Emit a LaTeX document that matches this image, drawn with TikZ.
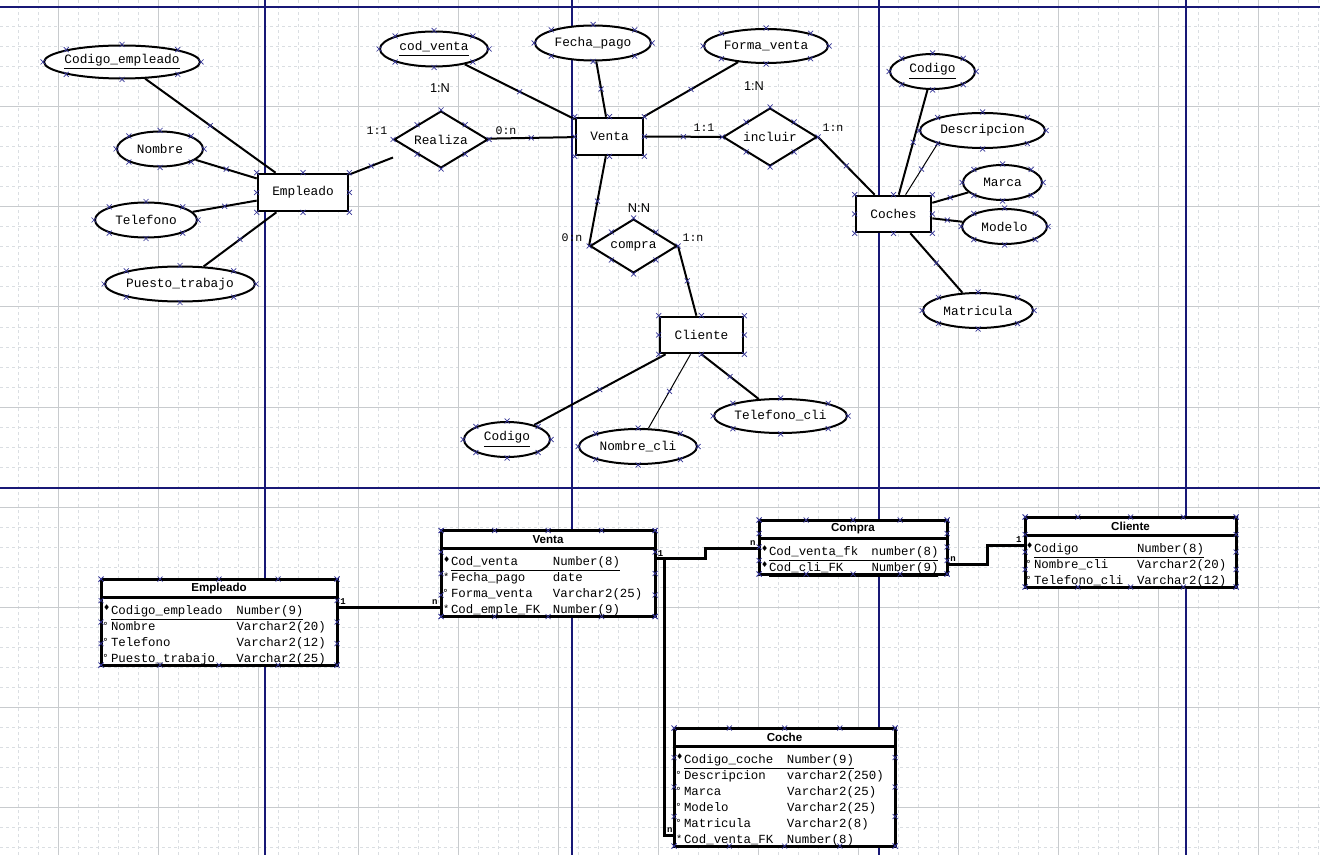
\documentclass[tikz,border=0pt]{standalone}
\usepackage{fontspec}
\usetikzlibrary{positioning, shapes.geometric, calc, decorations.markings}
\newfontfamily\erfont{Liberation Mono}
\newfontfamily\lblfont{Liberation Sans}
\newfontfamily\markfont{DejaVu Sans}
\definecolor{pageline}{RGB}{24,24,118}
\definecolor{gridcol}{RGB}{218,222,226}
\definecolor{handlecol}{RGB}{52,52,150}
\newcommand{\pkm}{\makebox[4pt][l]{\raisebox{1.6pt}{\markfont\fontsize{4}{4}\selectfont ♦}}}
\newcommand{\mkm}{\makebox[4pt][l]{\raisebox{0.4pt}{\fontsize{5.2}{5.2}\selectfont *}}}
\newcommand{\opm}{\makebox[4pt][l]{\raisebox{0.4pt}{\markfont\fontsize{4.8}{4.8}\selectfont °}}}
\newcommand{\tcol}[2]{\makebox[#1][l]{#2}}
\newcommand{\shapemarks}[1]{\foreach \an in {north,south,east,west,north east,north west,south east,south west} \pic at (#1.\an) {hmark};}
\newcommand{\tablemarks}[2]{\foreach \f in {0,0.25,0.5,0.75,1} {%
  \pic at ($(#1.north west)!\f!(#1.north east)$) {hmark};
  \pic at ($(#2.south west)!\f!(#2.south east)$) {hmark};
  \pic at ($(#1.north west)!\f!(#2.south west)$) {hmark};
  \pic at ($(#1.north east)!\f!(#2.south east)$) {hmark};}}

\begin{document}
\begin{tikzpicture}[x=0.5pt, y=-0.5pt,
    gridminor/.style={draw=gridcol, line width=0.5pt, dash pattern=on 1.5pt off 1.5pt},
    gridmajor/.style={draw=gridcol!80!gray, line width=0.5pt},
    pagebreak/.style={draw=pageline, line width=0.6pt},
    handle/.style={draw=handlecol, line width=0.35pt},
    hmark/.pic={\draw[handle] (-2.5,-2.5) -- (2.5,2.5) (-2.5,2.5) -- (2.5,-2.5);},
    erfontsize/.style={font=\erfont\fontsize{6.4}{7}\selectfont},
    entity/.style={rectangle, draw, fill=white, line width=1.3pt, inner sep=0pt, erfontsize},
    attr/.style={ellipse, draw, fill=white, line width=1pt, inner sep=0pt, erfontsize},
    relship/.style={diamond, aspect=1.6, draw, fill=white, line width=1pt, inner sep=0pt, erfontsize},
    card/.style={inner sep=0pt, font=\erfont\fontsize{5.8}{6}\selectfont},
    cardN/.style={inner sep=0pt, font=\lblfont\fontsize{6.4}{7}\selectfont},
    conn/.style={line width=1pt, postaction={decorate}, decoration={markings,
        mark=at position 0.5 with {\pgftransformresetnontranslations
          \draw[handle] (-2.5,-2.5) -- (2.5,2.5) (-2.5,2.5) -- (2.5,-2.5);}}},
    thinconn/.style={conn, line width=0.5pt},
    tabhead/.style={rectangle, draw, fill=white, line width=1.5pt, minimum height=9pt,
        inner sep=0pt, outer sep=0pt, font=\lblfont\bfseries\fontsize{5.8}{6}\selectfont},
    tabbody/.style={rectangle, draw, fill=white, line width=1.5pt, inner sep=0pt, outer sep=0pt},
    trow/.style={inner sep=0pt, outer sep=0pt, text height=5.6pt, text depth=2.4pt,
        font=\erfont\fontsize{6.2}{8}\selectfont},
    link/.style={line width=1.5pt},
    linkcard/.style={inner sep=0pt, font=\erfont\bfseries\fontsize{4.5}{5}\selectfont}]

  \useasboundingbox (0,0) rectangle (1320,855);
  \fill[white] (0,0) rectangle (1320,855);
  \draw[gridminor, step=10pt, shift={(18,7)}] (-18,848) grid (1302,-7);
  \draw[gridmajor, step=50pt, shift={(58,7)}] (-58,848) grid (1262,-7);
  \draw[pagebreak] (265,0) -- (265,855) (572,0) -- (572,855) (879,0) -- (879,855)
    (1186,0) -- (1186,855) (0,7) -- (1320,7) (0,488) -- (1320,488);

  % entidad Empleado
  \node[attr, minimum width=78pt, minimum height=16.5pt] (codemp) at (122,62) {\makebox[0pt]{\underline{Codigo\_empleado}}};
  \node[attr, minimum width=43pt, minimum height=17.5pt] (nombre) at (160,149) {Nombre};
  \node[attr, minimum width=51pt, minimum height=17.5pt] (telefono) at (146,220) {Telefono};
  \node[attr, minimum width=75pt, minimum height=17.5pt] (puesto) at (180,284) {\makebox[0pt]{Puesto\_trabajo}};
  \node[entity, minimum width=45pt, minimum height=18.5pt] (empleado) at (303,192.5) {Empleado};
  \node[relship, minimum width=47pt, minimum height=28.5pt] (realiza) at (441,139.5) {Realiza};

  % entidad Venta
  \node[attr, minimum width=54pt, minimum height=17.5pt] (codventa) at (434,49) {\underline{cod\_venta}};
  \node[attr, minimum width=58pt, minimum height=17.5pt] (fechapago) at (593,43) {Fecha\_pago};
  \node[attr, minimum width=62pt, minimum height=17pt] (formaventa) at (766,46) {Forma\_venta};
  \node[entity, minimum width=33.5pt, minimum height=18.5pt] (venta) at (609.5,136.5) {Venta};
  \node[relship, minimum width=47pt, minimum height=29pt] (incluir) at (770,137) {incluir};
  \node[relship, minimum width=43.5pt, minimum height=27pt] (compra) at (633.5,246) {compra};

  % entidad Coches
  \node[entity, minimum width=37.5pt, minimum height=18pt] (coches) at (893.5,214) {Coches};
  \node[attr, minimum width=42.5pt, minimum height=17.5pt] (codcoche) at (932.5,71.5) {\underline{Codigo}};
  \node[attr, minimum width=62.5pt, minimum height=17.5pt] (descripcion) at (982.5,130.5) {Descripcion};
  \node[attr, minimum width=39.5pt, minimum height=17.5pt] (marca) at (1002.5,182.5) {Marca};
  \node[attr, minimum width=42.5pt, minimum height=17.5pt] (modelo) at (1004.5,226.5) {Modelo};
  \node[attr, minimum width=55pt, minimum height=17.5pt] (matricula) at (978,310.5) {Matricula};

  % entidad Cliente
  \node[entity, minimum width=41.5pt, minimum height=18pt] (cliente) at (701.5,335) {Cliente};
  \node[attr, minimum width=43pt, minimum height=17.5pt] (codcli) at (507,439.5) {\underline{Codigo}};
  \node[attr, minimum width=59pt, minimum height=17.5pt] (nombrecli) at (638,446.5) {Nombre\_cli};
  \node[attr, minimum width=66.5pt, minimum height=17pt] (telcli) at (780.5,416) {Telefono\_cli};

  % cardinalidades
  \node[card] (c11a) at (377,131) {1:1};
  \node[cardN] (c1Na) at (440,88) {1:N};
  \node[card] (c0na) at (506,131) {0:n};
  \node[card] (c11b) at (704,128) {1:1};
  \node[card] (c1nb) at (833,128) {1:n};
  \node[cardN] (c1Nb) at (754,86) {1:N};
  \node[cardN] (cNN) at (639,208) {N:N};
  \node[card] (c0nc) at (572,238) {0:n};
  \node[card] (c1nc) at (693,238) {1:n};

  \coordinate (realizafoot) at (393,157.5);
  \draw[conn] (codemp) -- (empleado);
  \draw[conn] (nombre) -- (empleado);
  \draw[conn] (telefono) -- (empleado);
  \draw[conn] (puesto) -- (empleado);
  \draw[conn] (empleado) -- (realizafoot);
  \draw[conn] (realiza) -- (venta);
  \draw[conn] (codventa) -- (venta);
  \draw[conn] (fechapago) -- (venta);
  \draw[conn] (formaventa) -- (venta);
  \draw[conn] (venta) -- (incluir);
  \draw[conn] (incluir.east) -- (coches);
  \draw[conn] (venta) -- (compra.west);
  \draw[conn] (compra.east) -- (cliente);
  \draw[conn] (codcoche) -- (coches);
  \draw[thinconn] (descripcion.south west) -- (coches);
  \draw[conn] (marca) -- (coches);
  \draw[conn] (modelo) -- (coches);
  \draw[conn] (matricula) -- (coches);
  \draw[conn] (codcli) -- (cliente);
  \draw[thinconn] (nombrecli) -- (cliente);
  \draw[conn] (cliente.south) -- (telcli);

  \foreach \s in {codemp,nombre,telefono,puesto,empleado,realiza,codventa,fechapago,formaventa,venta,
      incluir,compra,coches,codcoche,descripcion,marca,modelo,matricula,cliente,codcli,nombrecli,telcli}
    {\shapemarks{\s}}

  % tabla Empleado
  \node[tabhead, minimum width=118pt] (empleadoT) at (219,588) {Empleado};
  \node[tabbody, minimum width=118pt, minimum height=34pt, below=0pt of empleadoT] (empleadoB) {};
  \node[trow, below right=2.9pt and 1pt of empleadoB.north west] (empleadoR1) {\pkm\underline{\tcol{62.75pt}{Codigo\_empleado}Number(9)}};
  \node[trow, below right=0pt and 0pt of empleadoR1.south west] (empleadoR2) {\opm\tcol{62.75pt}{Nombre}Varchar2(20)};
  \node[trow, below right=0pt and 0pt of empleadoR2.south west] (empleadoR3) {\opm\tcol{62.75pt}{Telefono}Varchar2(12)};
  \node[trow, below right=0pt and 0pt of empleadoR3.south west] (empleadoR4) {\opm\tcol{62.75pt}{Puesto\_trabajo}Varchar2(25)};

  % tabla Venta
  \node[tabhead, minimum width=107pt] (ventaT) at (548,539.5) {Venta};
  \node[tabbody, minimum width=107pt, minimum height=34pt, below=0pt of ventaT] (ventaB) {};
  \node[trow, below right=2.9pt and 1pt of ventaB.north west] (ventaR1) {\pkm\underline{\tcol{51pt}{Cod\_venta}Number(8)}};
  \node[trow, below right=0pt and 0pt of ventaR1.south west] (ventaR2) {\mkm\tcol{51pt}{Fecha\_pago}date};
  \node[trow, below right=0pt and 0pt of ventaR2.south west] (ventaR3) {\opm\tcol{51pt}{Forma\_venta}Varchar2(25)};
  \node[trow, below right=0pt and 0pt of ventaR3.south west] (ventaR4) {\mkm\tcol{51pt}{Cod\_emple\_FK}Number(9)};

  % tabla Compra
  \node[tabhead, minimum width=94pt] (compraT) at (853,529) {Compra};
  \node[tabbody, minimum width=94pt, minimum height=18pt, below=0pt of compraT] (compraB) {};
  \node[trow, below right=2.9pt and 1pt of compraB.north west] (compraR1) {\pkm\underline{\tcol{51.25pt}{Cod\_venta\_fk}number(8)}};
  \node[trow, below right=0pt and 0pt of compraR1.south west] (compraR2) {\pkm\underline{\tcol{51.25pt}{Cod\_cli\_FK}Number(9)}};

  % tabla Cliente
  \node[tabhead, minimum width=105.5pt] (clienteT) at (1130.5,526) {Cliente};
  \node[tabbody, minimum width=105.5pt, minimum height=26pt, below=0pt of clienteT] (clienteB) {};
  \node[trow, below right=2.9pt and 0.5pt of clienteB.north west] (clienteR1) {\pkm\underline{\tcol{51.5pt}{Codigo}Number(8)}};
  \node[trow, below right=0pt and 0pt of clienteR1.south west] (clienteR2) {\opm\tcol{51.5pt}{Nombre\_cli}Varchar2(20)};
  \node[trow, below right=0pt and 0pt of clienteR2.south west] (clienteR3) {\opm\tcol{51.5pt}{Telefono\_cli}Varchar2(12)};

  % tabla Coche
  \node[tabhead, minimum width=110.5pt] (cocheT) at (784.5,737) {Coche};
  \node[tabbody, minimum width=110.5pt, minimum height=50pt, below=0pt of cocheT] (cocheB) {};
  \node[trow, below right=2.9pt and 1pt of cocheB.north west] (cocheR1) {\pkm\underline{\tcol{51.5pt}{Codigo\_coche}Number(9)}};
  \node[trow, below right=0pt and 0pt of cocheR1.south west] (cocheR2) {\opm\tcol{51.5pt}{Descripcion}varchar2(250)};
  \node[trow, below right=0pt and 0pt of cocheR2.south west] (cocheR3) {\opm\tcol{51.5pt}{Marca}Varchar2(25)};
  \node[trow, below right=0pt and 0pt of cocheR3.south west] (cocheR4) {\opm\tcol{51.5pt}{Modelo}Varchar2(25)};
  \node[trow, below right=0pt and 0pt of cocheR4.south west] (cocheR5) {\opm\tcol{51.5pt}{Matricula}Varchar2(8)};
  \node[trow, below right=0pt and 0pt of cocheR5.south west] (cocheR6) {\mkm\tcol{51.5pt}{Cod\_venta\_FK}Number(8)};

  % relaciones entre tablas
  \coordinate (empleadoP) at ([yshift=-5pt]empleadoB.north east);
  \coordinate (ventaF) at (empleadoP -| ventaB.west);
  \coordinate (ventaP) at ([yshift=-5pt]ventaB.north east);
  \coordinate (compraF) at ([yshift=-5pt]compraB.north west);
  \coordinate (compraP) at ([yshift=-13pt]compraB.north east);
  \coordinate (clienteF) at ([yshift=-5pt]clienteB.north west);
  \coordinate (cocheF) at ([yshift=-44.5pt]cocheB.north west);
  \draw[link] (empleadoP) -- (ventaF);
  \draw[link] (ventaP) -- ++(50,0) |- (compraF);
  \draw[link] (compraP) -- ++(40,0) |- (clienteF);
  \draw[link] (ventaP) -- ++(9,0) |- (cocheF);
  \node[linkcard, above right=1pt and 1.5pt of empleadoP] (empleadoC) {1};
  \node[linkcard, above left=1pt and 1.5pt of ventaF] (ventaC) {n};
  \node[linkcard, above right=1pt and 1.2pt of ventaP] (ventaC2) {1};
  \node[linkcard, above left=1pt and 1.5pt of compraF] (compraC) {n};
  \node[linkcard, above right=1pt and 1.5pt of compraP] (compraC2) {n};
  \node[linkcard, above left=1pt and 1.5pt of clienteF] (clienteC) {1};
  \node[linkcard, above left=1pt and 0.5pt of cocheF] (cocheC) {n};

  \tablemarks{empleadoT}{empleadoB}
  \tablemarks{ventaT}{ventaB}
  \tablemarks{compraT}{compraB}
  \tablemarks{clienteT}{clienteB}
  \tablemarks{cocheT}{cocheB}
\end{tikzpicture}
\end{document}
